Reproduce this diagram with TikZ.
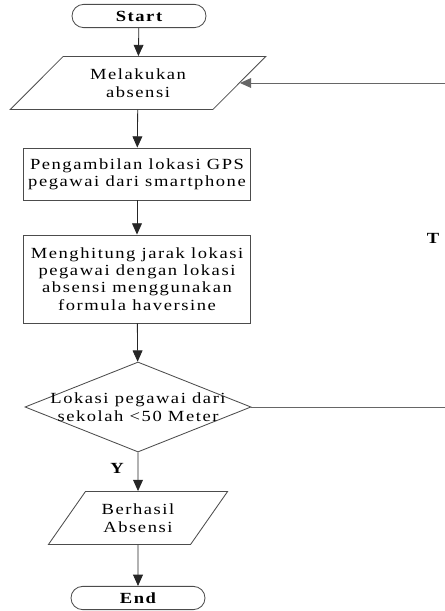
\documentclass[tikz,border=0pt]{standalone}
\usepackage{fontspec}
\setmainfont[FakeStretch=1.2,LetterSpace=10]{Liberation Serif}
\usetikzlibrary{shapes.geometric, shapes.misc, arrows.meta, positioning}

\begin{document}
\begin{tikzpicture}[x=0.025cm,y=-0.025cm,
  term/.style={rounded rectangle,draw=black!70,line width=0.6pt,minimum width=3.35cm,minimum height=0.58cm,inner sep=0pt,font=\fontsize{11}{12}\selectfont\bfseries},
  io/.style={trapezium,trapezium stretches=true,draw=black!70,line width=0.6pt,minimum height=1.325cm,inner sep=0pt,align=center,font=\fontsize{11}{12.5}\selectfont},
  proc/.style={rectangle,draw=black!70,line width=0.6pt,minimum width=5.675cm,inner sep=0pt,align=center,font=\fontsize{11}{12.3}\selectfont},
  dec/.style={diamond,draw=black!70,line width=0.6pt,minimum width=5.65cm,minimum height=2.25cm,inner sep=0pt},
  lbl/.style={font=\fontsize{11}{12}\selectfont\bfseries,inner sep=0pt},
  arr/.style={-{Triangle[length=8pt,width=7pt]},line width=0.6pt,draw=black!85},
  ln/.style={line width=0.6pt,draw=black!60}
]
  \useasboundingbox (0,0) rectangle (445,611);
  \node[term](st) at (139,16)  {Start};
  \node[io,trapezium left angle=40,trapezium right angle=140,minimum width=6.4cm](p1) at (138,83) {Melakukan\\absensi};
  \node[proc,minimum height=1.3cm](p2) at (137,174) {Pengambilan lokasi GPS\\pegawai dari smartphone};
  \node[proc,minimum height=2.2cm](p3) at (137,279) {Menghitung jarak lokasi\\pegawai dengan lokasi\\absensi menggunakan\\formula haversine};
  \node[dec](d1) at (138,407) {};
  \node[align=center,inner sep=0pt,font=\fontsize{11}{12.5}\selectfont](d1t) at (d1) {Lokasi pegawai dari\\sekolah <50 Meter};
  \node[io,trapezium left angle=48,trapezium right angle=132,minimum width=4.5cm](p4) at (138,518) {Berhasil\\Absensi};
  \node[term](en) at (138,598) {End};
  \node[lbl](ly) at (117,468) {Y};
  \node[lbl](lt) at (433,238) {T};
  \coordinate (rt) at (452,407);
  \draw[arr](st)--(p1); \draw[arr](p1)--(p2); \draw[arr](p2)--(p3);
  \draw[arr](p3)--(d1); \draw[arr](d1)--(p4); \draw[arr](p4)--(en);
  \draw[ln](d1.east)--(rt);
  \draw[arr,draw=black!60](rt) |- (p1.east);
\end{tikzpicture}
\end{document}
